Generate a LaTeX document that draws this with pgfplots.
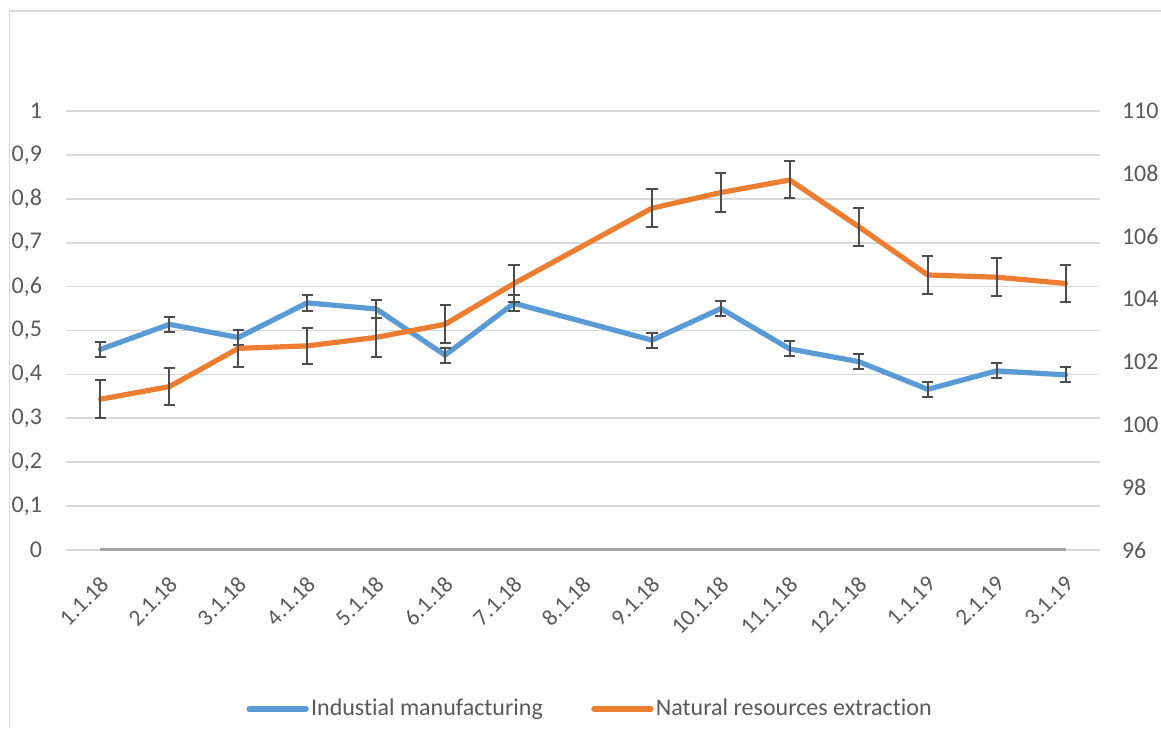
\documentclass[border=0pt]{standalone}
\usepackage{fontspec}
\setmainfont{Carlito}[Ligatures=NoCommon]
\usepackage{pgfplots}
\pgfplotsset{compat=1.18}
\definecolor{exblue}{HTML}{5B9BD5}
\definecolor{exorange}{HTML}{ED7D31}
\definecolor{exgray}{HTML}{A5A5A5}
\definecolor{gridgray}{HTML}{D9D9D9}
\definecolor{labelgray}{HTML}{595959}
\definecolor{errgray}{HTML}{4D4D4D}

\pgfplotsset{
  excel/.style={
    at={(33pt,89pt)}, anchor=south west,
    scale only axis, width=517pt, height=219.5pt,
    xmin=-0.5, xmax=14.5,
    axis line style={draw=none},
    major tick length=0pt,
    tick label style={font=\fontsize{12}{14}\selectfont, text=labelgray},
    /pgf/number format/assume math mode=true,
  },
  err/.style={
    error bars/.cd, y dir=both, y explicit,
    error bar style={line width=1pt, errgray},
    error mark options={rotate=90, mark size=2.8pt, line width=1pt, errgray},
  },
}

\begin{document}
\begin{tikzpicture}
\path[use as bounding box] (0,0) rectangle (580.5pt,364pt);
\draw[gridgray, line width=0.9pt] (4.75pt,0) -- (4.75pt,358.5pt) -- (580.5pt,358.5pt);

% left axis: industrial manufacturing
\begin{axis}[excel,
  ymin=0, ymax=1,
  ytick={0,0.1,0.2,0.3,0.4,0.5,0.6,0.7,0.8,0.9,1},
  ymajorgrids, grid style={gridgray, line width=0.9pt},
  yticklabel style={/pgf/number format/fixed, /pgf/number format/precision=1,
    /pgf/number format/use comma, anchor=east, xshift=-8.5pt},
  xtick={0,...,14},
  xticklabels={1.1.18,2.1.18,3.1.18,4.1.18,5.1.18,6.1.18,7.1.18,8.1.18,9.1.18,10.1.18,11.1.18,12.1.18,1.1.19,2.1.19,3.1.19},
  xticklabel style={xshift=4.4pt, yshift=-12.7pt, rotate=45, anchor=east,
    font=\fontsize{11.5}{13}\selectfont},
  legend image code/.code={\draw[#1] (0pt,0pt) -- (28.5pt,0pt);},
  legend style={at={(0.507,-0.362)}, anchor=center, draw=none, fill=none,
    legend columns=2, font=\fontsize{12}{14}\selectfont, text=labelgray,
    nodes={inner xsep=1.2pt},
    /tikz/every even column/.append style={column sep=23pt}},
  legend cell align=left,
]
\addlegendimage{exblue, line width=2.6pt, line cap=round}
\addlegendentry{Industial manufacturing}
\addlegendimage{exorange, line width=2.6pt, line cap=round}
\addlegendentry{Natural resources extraction}

\addplot[exgray, line width=1.6pt, forget plot] coordinates {
  (0,0) (1,0) (2,0) (3,0) (4,0) (5,0) (6,0) (7,0) (8,0) (9,0) (10,0) (11,0) (12,0) (13,0) (14,0)
};
\addplot[exblue, line width=2.6pt, line join=round, line cap=round, forget plot, err]
  coordinates {
  (0,0.457)  +- (0,0.017)
  (1,0.514)  +- (0,0.017)
  (2,0.484)  +- (0,0.017)
  (3,0.563)  +- (0,0.018)
  (4,0.549)  +- (0,0.020)
  (5,0.444)  +- (0,0.017)
  (6,0.562)  +- (0,0.018)
  (8,0.478)  +- (0,0.017)
  (9,0.550)  +- (0,0.017)
  (10,0.458) +- (0,0.017)
  (11,0.429) +- (0,0.017)
  (12,0.366) +- (0,0.017)
  (13,0.408) +- (0,0.017)
  (14,0.399) +- (0,0.017)
};
\end{axis}

% right axis: natural resources extraction
\begin{axis}[excel,
  ymin=96, ymax=110,
  ytick={96,98,100,102,104,106,108,110},
  axis y line*=right,
  yticklabel style={anchor=west, xshift=7.5pt},
  xtick=\empty,
]
\addplot[exorange, line width=2.6pt, line join=round, line cap=round, err]
  coordinates {
  (0,100.81)  +- (0,0.61)
  (1,101.21)  +- (0,0.58)
  (2,102.43)  +- (0,0.60)
  (3,102.51)  +- (0,0.58)
  (4,102.78)  +- (0,0.61)
  (5,103.20)  +- (0,0.60)
  (6,104.50)  +- (0,0.59)
  (8,106.90)  +- (0,0.60)
  (9,107.40)  +- (0,0.62)
  (10,107.80) +- (0,0.59)
  (11,106.31) +- (0,0.60)
  (12,104.77) +- (0,0.60)
  (13,104.70) +- (0,0.60)
  (14,104.50) +- (0,0.60)
};
\end{axis}
\end{tikzpicture}
\end{document}
